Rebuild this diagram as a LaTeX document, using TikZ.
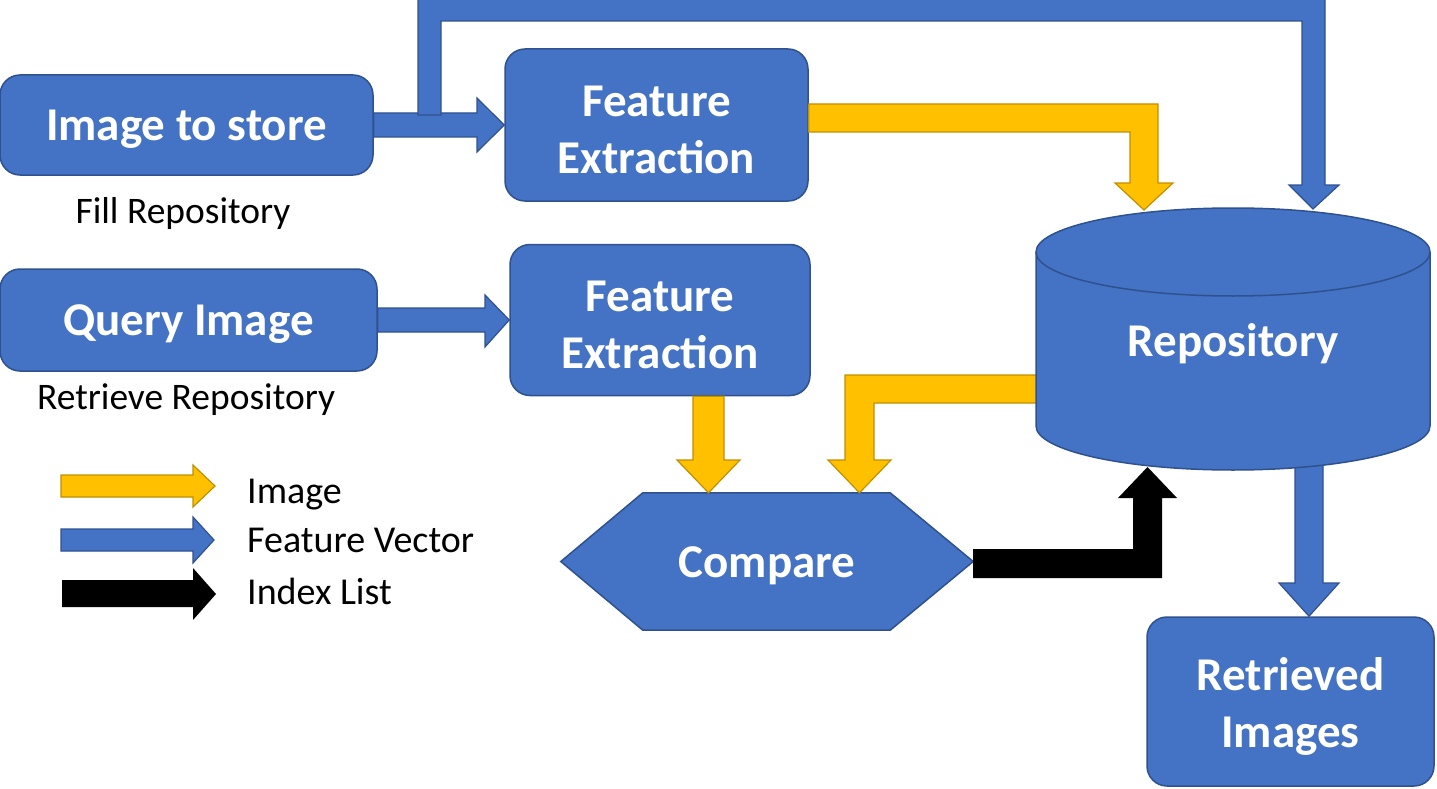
\documentclass[tikz,border=0pt]{standalone}
\usepackage{fontspec}
\setmainfont{Carlito}
\usetikzlibrary{calc,backgrounds}
\definecolor{boxblue}{HTML}{4472C4}
\definecolor{boxedge}{HTML}{2F528F}
\definecolor{arrgold}{HTML}{FFC000}
\definecolor{arrgoldedge}{HTML}{BF9000}
% give the first line extra height so the text sits a little lower in its shape
\newcommand{\lowline}[1]{\raisebox{0pt}[\dimexpr\height+9pt\relax]{#1}}
\begin{document}
\begin{tikzpicture}[x=1pt,y=-1pt,
  box/.style={draw=boxedge, line width=1.5pt, fill=boxblue, rounded corners=20pt,
    text=white, font=\bfseries\fontsize{47}{57}\selectfont, align=center, inner sep=0pt},
  plaintext/.style={draw=none, fill=none, text=white, font=\bfseries\fontsize{47}{57}\selectfont, align=center, inner sep=0pt},
  bluearr/.style={fill=boxblue, draw=boxedge, line width=1.2pt, line join=miter},
  goldarr/.style={fill=arrgold, draw=arrgoldedge, line width=1.2pt, line join=miter},
  blackarr/.style={fill=black},
  lbl/.style={font=\fontsize{37.5}{42}\selectfont, text=black, inner sep=0pt},
  legtxt/.style={font=\fontsize{38}{44}\selectfont, text=black, anchor=base west, inner sep=0pt}]
\useasboundingbox (0,0) rectangle (1437,789);

% boxes
\node[box, minimum width=373pt, minimum height=100pt] (img) at (186.5,125) {\lowline{Image to store}};
\node[lbl] (filllbl) at (183,214) {Fill Repository};
\node[box, minimum width=377pt, minimum height=102pt] (qimg) at (188.5,320) {\lowline{Query Image}};
\node[lbl] (retrlbl) at (186,400) {Retrieve Repository};
\node[box, minimum width=303pt, minimum height=152pt] (fe1) at (656.5,125) {\lowline{Feature}\\Extraction};
\node[box, minimum width=300pt, minimum height=151pt] (fe2) at (660,320) {\lowline{Feature}\\Extraction};
\node[box, minimum width=287pt, minimum height=169pt] (retr) at (1290.5,701.5) {\lowline{Retrieved}\\Images};

% compare hexagon
\node[plaintext, minimum width=412pt, minimum height=137pt] (cmp) at (767,561.5) {\lowline{Compare}};
\begin{scope}[on background layer]
  \path[fill=boxblue, draw=boxedge, line width=1.5pt]
    (cmp.west) -- ($(cmp.north west)+(82,0)$) -- ($(cmp.north east)+(-83,0)$)
    -- (cmp.east) -- ($(cmp.south east)+(-83,0)$) -- ($(cmp.south west)+(82,0)$) -- cycle;
\end{scope}

% connectors (block arrows)
\path[bluearr] (img.east |- 0,113) -- (477,113) -- (477,98) -- (fe1.west) -- (477,152) -- (477,137) -- (img.east |- 0,137) -- cycle;
\path[bluearr] (418,115) -- (418,-2) -- (1325,-2) -- (1325,185) -- (1339,185) -- (1313,209) -- (1289,185) -- (1302,185) -- (1302,21) -- (441,21) -- (441,115) -- cycle;
\path[goldarr] (fe1.east |- 0,104) -- (1158,104) -- (1158,183) -- (1173,183) -- (1144,210) -- (1115,183) -- (1130,183) -- (1130,132) -- (fe1.east |- 0,132) -- cycle;
\path[bluearr] (qimg.east |- 0,308) -- (485,308) -- (485,295) -- (fe2.west) -- (485,347) -- (485,332) -- (qimg.east |- 0,332) -- cycle;
\path[goldarr] (fe2.south -| 693,0) -- (693,460) -- (677,460) -- (cmp.north -| 708.5,0) -- (740,460) -- (724,460) -- (fe2.south -| 724,0) -- cycle;
\path[goldarr] (1040,375) -- (845,375) -- (845,460) -- (828,460) -- (cmp.north -| 859.5,0) -- (891,460) -- (874,460) -- (874,403) -- (1040,403) -- cycle;
\path[blackarr] (cmp.east |- 0,549) -- (1133,549) -- (1133,498) -- (1118,498) -- (1147.5,467) -- (1177,498) -- (1162,498) -- (1162,578) -- (cmp.east |- 0,578) -- cycle;
\path[bluearr] (1295,460) -- (1295,583) -- (1279,583) -- (retr.north -| 1309,0) -- (1339,583) -- (1323,583) -- (1323,460) -- cycle;

% repository cylinder
\path[fill=boxblue, draw=boxedge, line width=1.5pt] (1036,252) -- (1036,426)
  arc[start angle=180, end angle=360, x radius=197pt, y radius=44pt] -- (1430,252)
  arc[start angle=0, end angle=180, x radius=197pt, y radius=44pt] -- cycle;
\draw[boxedge, line width=1.5pt] (1036,252) arc[start angle=180, end angle=360, x radius=197pt, y radius=44pt];
\node[plaintext, minimum width=394pt, minimum height=262pt] (repo) at (1233,339) {\lowline{Repository}};

% legend
\path[goldarr] (61,475) -- (193,475) -- (193,465) -- (215,486) -- (193,507) -- (193,497) -- (61,497) -- cycle;
\path[bluearr] (61,529) -- (193,529) -- (193,517) -- (214,540) -- (193,563) -- (193,551) -- (61,551) -- cycle;
\path[blackarr] (62,580) -- (193,580) -- (193,568) -- (216,594) -- (193,620) -- (193,607) -- (62,607) -- cycle;
\node[legtxt] (lg1) at (247,503) {Image};
\node[legtxt] (lg2) at (247,552) {Feature Vector};
\node[legtxt] (lg3) at (247,604) {Index List};
\end{tikzpicture}
\end{document}
